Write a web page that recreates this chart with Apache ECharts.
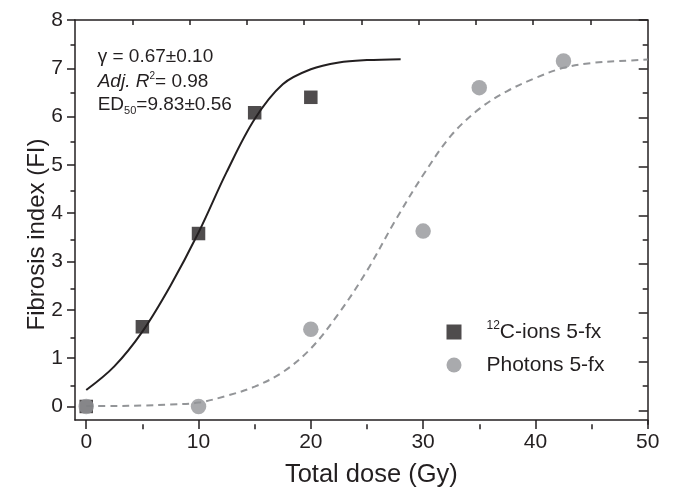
<!DOCTYPE html>
<html>
<head>
<meta charset="utf-8">
<script src="https://cdn.jsdelivr.net/npm/echarts@6/dist/echarts.min.js"></script>
<style>html,body{margin:0;padding:0;background:#fff}#c{width:675px;height:493px}</style>
</head>
<body>
<div id="c"></div>
<script>
// ---- data ----
const doseC = [0, 5, 10, 15, 20];
const fiC = [0, 1.65, 3.58, 6.08, 6.4];
const doseP = [0, 10, 20, 30, 35, 42.5];
const fiP = [0, 0, 1.6, 3.63, 6.6, 7.15];
const fitCDose = [0, 2.5, 5, 7.5, 10, 12.5, 15, 17.5, 20, 22.5, 25, 28];
const fitCFI = [0.34, 0.83, 1.55, 2.5, 3.6, 4.85, 5.95, 6.67, 6.98, 7.12, 7.17, 7.19];
const fitPDose = [0, 2.5, 5, 7.5, 10, 12.5, 15, 17.5, 20, 22.5, 25, 27.5, 30, 32.5, 35, 37.5, 40, 42.5, 45, 47.5, 50];
const fitPFI = [0.01, 0.01, 0.02, 0.04, 0.08, 0.22, 0.41, 0.71, 1.2, 1.93, 2.81, 3.84, 4.79, 5.61, 6.16, 6.53, 6.8, 7.01, 7.11, 7.15, 7.18];
const xMajorTicks = [0, 10, 20, 30, 40, 50];
const xMinorTicks = [5, 15, 25, 35, 45];
const yMajorTicks = [0, 1, 2, 3, 4, 5, 6, 7, 8];
const yMinorTicks = [0.5, 1.5, 2.5, 3.5, 4.5, 5.5, 6.5, 7.5];
const topTicks = [1, 2, 3, 4, 5, 6, 7, 8, 9];
const seriesNames = ['12C-ions 5-fx', 'Photons 5-fx'];

const FONT = "'Liberation Sans', Arial, sans-serif";
const INK = '#231f20';
const GREY = '#939598';
const zip = (a, b) => a.map((v, i) => [v, b[i]]);
const lineStyle = { color: INK, width: 1.5 };
const rect = { left: 75, right: 27.3, top: 20, bottom: 68.7 };

const xBase = (grid) => ({ type: 'value', gridIndex: grid, min: -1, max: 50, splitLine: { show: false } });
const yBase = (grid) => ({ type: 'value', gridIndex: grid, min: -0.28, max: 8, splitLine: { show: false } });

const chart = echarts.init(document.getElementById('c'), null, { renderer: 'canvas' });
chart.setOption({
  animation: false,
  backgroundColor: '#fff',
  grid: [Object.assign({}, rect), Object.assign({}, rect), Object.assign({}, rect), Object.assign({}, rect)],
  xAxis: [
    Object.assign(xBase(0), {
      position: 'bottom',
      axisLine: { show: true, onZero: false, lineStyle },
      axisTick: { show: true, inside: false, length: 9, customValues: xMajorTicks, lineStyle },
      axisLabel: { show: true, customValues: xMajorTicks, fontSize: 21, margin: 12, color: INK, fontFamily: FONT },
      name: 'Total dose (Gy)', nameLocation: 'middle', nameGap: 42, nameMoveOverlap: false,
      nameTextStyle: { fontSize: 25.5, color: INK, fontFamily: FONT, padding: [0, 0, 0, 20] }
    }),
    Object.assign(xBase(1), {
      position: 'bottom',
      axisLine: { show: false, onZero: false },
      axisTick: { show: true, inside: false, length: 5, customValues: xMinorTicks, lineStyle },
      axisLabel: { show: false }
    }),
    { type: 'value', gridIndex: 2, min: 0, max: 10, position: 'top', splitLine: { show: false },
      axisLine: { show: true, onZero: false, lineStyle },
      axisTick: { show: true, inside: true, length: 5, customValues: topTicks, lineStyle },
      axisLabel: { show: false } },
    Object.assign(xBase(3), { position: 'bottom', show: false, axisLine: { onZero: false } })
  ],
  yAxis: [
    Object.assign(yBase(0), {
      position: 'left',
      axisLine: { show: true, onZero: false, lineStyle },
      axisTick: { show: true, inside: false, length: 8, customValues: yMajorTicks, lineStyle },
      axisLabel: { show: true, customValues: yMajorTicks, fontSize: 21, margin: 12, color: INK, fontFamily: FONT },
      name: 'Fibrosis index (FI)', nameLocation: 'middle', nameGap: 26, nameMoveOverlap: false,
      nameTextStyle: { fontSize: 24, color: INK, fontFamily: FONT, padding: [0, 29, 0, 0] }
    }),
    Object.assign(yBase(1), {
      position: 'left',
      axisLine: { show: false, onZero: false },
      axisTick: { show: true, inside: false, length: 4.5, customValues: yMinorTicks, lineStyle },
      axisLabel: { show: false }
    }),
    Object.assign(yBase(2), {
      position: 'right',
      axisLine: { show: true, onZero: false, lineStyle },
      axisTick: { show: true, inside: true, length: 9, customValues: yMajorTicks, lineStyle },
      axisLabel: { show: false }
    }),
    Object.assign(yBase(3), {
      position: 'right',
      axisLine: { show: false, onZero: false },
      axisTick: { show: true, inside: true, length: 5, customValues: yMinorTicks, lineStyle },
      axisLabel: { show: false }
    })
  ],
  legend: {
    data: seriesNames,
    orient: 'vertical',
    left: 441.5, top: 315,
    itemWidth: 15, itemHeight: 15, itemGap: 12,
    textStyle: {
      fontSize: 21, color: INK, fontFamily: FONT, padding: [0, 0, 0, 20],
      rich: {
        sup: { fontSize: 12, verticalAlign: 'top', lineHeight: 12, color: INK, fontFamily: FONT },
        n: { fontSize: 21, color: INK, fontFamily: FONT, lineHeight: 24 }
      }
    },
    formatter: name => name.indexOf('12') === 0 ? '{sup|12}{n|' + name.slice(2) + '}' : '{n|' + name + '}'
  },
  series: [
    { type: 'line', name: 'fitC', xAxisIndex: 0, yAxisIndex: 0, data: zip(fitCDose, fitCFI), smooth: 0.35,
      showSymbol: false, symbol: 'none', lineStyle: { color: INK, width: 2 }, z: 2 },
    { type: 'line', name: 'fitP', xAxisIndex: 0, yAxisIndex: 0, data: zip(fitPDose, fitPFI), smooth: 0.35,
      showSymbol: false, symbol: 'none', lineStyle: { color: GREY, width: 2, type: [7, 5] }, z: 2 },
    { type: 'scatter', name: seriesNames[0], xAxisIndex: 0, yAxisIndex: 0, data: zip(doseC, fiC), symbol: 'rect',
      symbolSize: 13.5, itemStyle: { color: INK }, z: 3 },
    { type: 'scatter', name: seriesNames[1], xAxisIndex: 0, yAxisIndex: 0, data: zip(doseP, fiP), symbol: 'circle',
      symbolSize: 15.5, itemStyle: { color: GREY }, z: 4 }
  ],
  graphic: [
    { type: 'text', x: 97.7, y: 56.7, z: 10,
      style: { text: 'γ = 0.67±0.10', fontSize: 19, fontFamily: FONT, fill: INK, verticalAlign: 'middle' } },
    { type: 'text', x: 97.7, y: 82, z: 10,
      style: { text: '{i|Adj. R}{sup|2}{n|= 0.98}', fontSize: 19, fontFamily: FONT, fill: INK, verticalAlign: 'middle',
        rich: {
          i: { fontSize: 19, fontStyle: 'italic', fontFamily: FONT, fill: INK, lineHeight: 22 },
          sup: { fontSize: 10, fontFamily: FONT, fill: INK, verticalAlign: 'top', lineHeight: 12 },
          n: { fontSize: 19, fontFamily: FONT, fill: INK, lineHeight: 22 }
        } } },
    { type: 'text', x: 97.7, y: 105, z: 10,
      style: { text: '{n|ED}{sub|50}{n|=9.83±0.56}', fontSize: 19, fontFamily: FONT, fill: INK, verticalAlign: 'middle',
        rich: {
          sub: { fontSize: 11, fontFamily: FONT, fill: INK, verticalAlign: 'bottom', lineHeight: 12 },
          n: { fontSize: 19, fontFamily: FONT, fill: INK, lineHeight: 22 }
        } } }
  ]
});
</script>
</body>
</html>
